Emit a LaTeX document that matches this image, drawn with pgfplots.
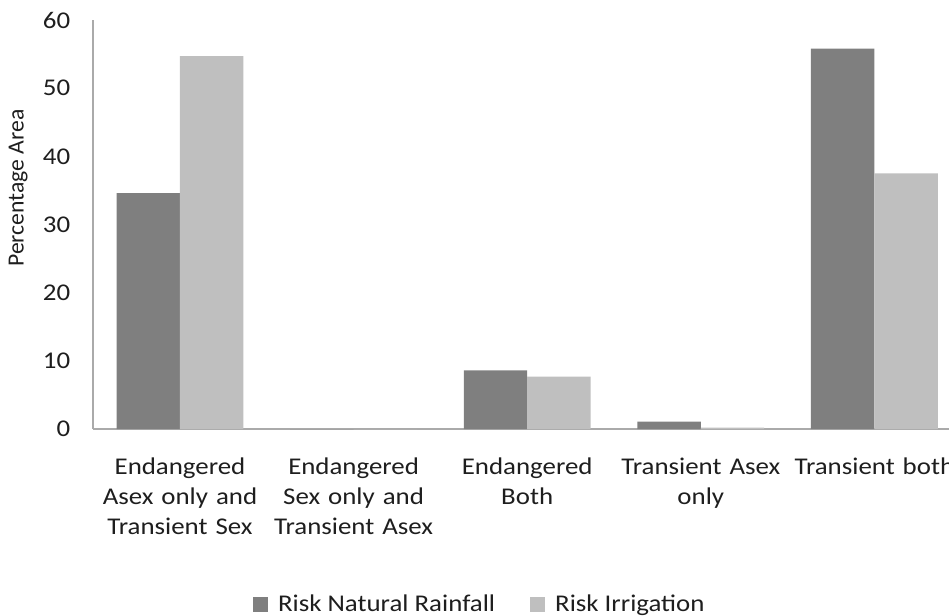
\documentclass[border=0pt]{standalone}
\usepackage{pgfplots}
\pgfplotsset{compat=1.18}
\usepackage{fontspec}
\setmainfont{Carlito}[FakeStretch=1.12]
\newfontfamily\ylabfont{Carlito}[FakeStretch=1.02]

\definecolor{rainfall}{RGB}{127,127,127}
\definecolor{irrigation}{RGB}{191,191,191}
\definecolor{axisgray}{RGB}{170,170,170}
\definecolor{labeltext}{RGB}{30,30,30}

\pgfplotstableread{
idx rainfall irrigation
0   34.6     54.7
1   0        0
2   8.6      7.7
3   1.1      0.2
4   55.8     37.5
}\riskdata

\begin{document}
\begin{tikzpicture}
\begin{axis}[
  at={(0,0)}, anchor=south west,
  x=86.8pt, y=3.4083pt,
  xmin=-0.5, xmax=4.5,
  ymin=0, ymax=60,
  ytick={0,10,...,60},
  xtick={0,1,2,3,4},
  xticklabels={
    {Endangered\\Asex only and\\Transient Sex},
    {Endangered\\Sex only and\\Transient Asex},
    {Endangered\\Both},
    {Transient Asex\\only},
    {Transient both}},
  axis x line=bottom, axis y line=left,
  axis line style={draw=axisgray, line width=0.7pt, -},
  major tick length=0pt,
  /pgf/number format/assume math mode=true,
  tick label style={font=\fontsize{12}{15}\selectfont, text=labeltext},
  yticklabel style={anchor=east, xshift=-8pt},
  xticklabel style={anchor=north, text width=85pt, align=center, yshift=-11pt},
  ylabel={Percentage Area},
  ylabel style={font=\ylabfont\fontsize{11.6}{13}\selectfont, text=labeltext,
    at={(axis description cs:0,0.589)}, anchor=center, yshift=37.5pt},
  ybar=0pt, bar width=31.7pt,
  legend style={draw=none, fill=none, legend columns=2,
    at={(axis description cs:0.4465,-0.43)}, anchor=center,
    font=\fontsize{12}{15}\selectfont, text=labeltext,
    /tikz/every odd column/.append style={column sep=3pt},
    /tikz/every even column/.append style={column sep=15.5pt}},
  legend image code/.code={\fill[#1] (0pt,-3.75pt) rectangle (7.5pt,3.75pt);},
]
\addplot[draw=none, fill=rainfall] table[x=idx, y=rainfall] {\riskdata};
\addplot[draw=none, fill=irrigation] table[x=idx, y=irrigation] {\riskdata};
\legend{Risk Natural Rainfall, Risk Irrigation}
\end{axis}
\pgfresetboundingbox
\useasboundingbox (-46.6pt,-93.5pt) rectangle (427.9pt,214.5pt);
\end{tikzpicture}
\end{document}
